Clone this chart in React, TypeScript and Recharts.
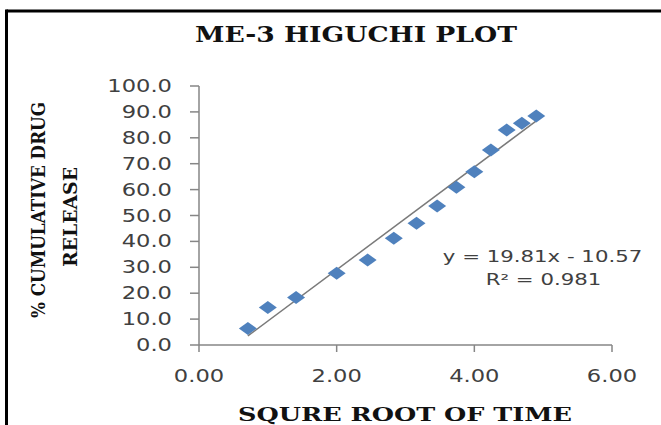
import React from 'react';
import { ScatterChart, Scatter, XAxis, YAxis, ReferenceLine } from 'recharts';

// sqrt(time) values and cumulative % release
const sqrtTime = [0.71, 1.0, 1.41, 2.0, 2.45, 2.83, 3.16, 3.46, 3.74, 4.0, 4.24, 4.47, 4.69, 4.9];
const release = [6.4, 14.5, 18.3, 27.7, 32.8, 41.2, 47.0, 53.7, 60.9, 66.9, 75.3, 83.0, 85.6, 88.4];

const xTicks = [0, 2, 4, 6];
const yTicks = [0, 10, 20, 30, 40, 50, 60, 70, 80, 90, 100];

// trendline end points
const trendX = [0.71, 4.9];
const trendY = [3.5, 86.5];

const chartTitle = 'ME-3 HIGUCHI PLOT';
const xTitle = 'SQURE ROOT OF TIME';
const yTitleLines = ['% CUMULATIVE DRUG', 'RELEASE'];
const equationLines = ['y = 19.81x - 10.57', 'R² = 0.981'];

const data = sqrtTime.map((x, i) => ({ x, y: release[i] }));

const AXIS = '#868686';
const TICK_TEXT = '#404040';
const SX = 1.33;

const YTick = (props: any) => {
  const { x, y, payload } = props;
  return (
    <g transform={`translate(${x},${y})`}>
      <text
        transform={`scale(${SX},1)`}
        textAnchor="end"
        dy="0.355em"
        fontSize={17}
        fontFamily="DejaVu Sans"
        fill={TICK_TEXT}
      >
        {Number(payload.value).toFixed(1)}
      </text>
    </g>
  );
};

const XTick = (props: any) => {
  const { x, y, payload } = props;
  return (
    <g transform={`translate(${x},${y})`}>
      <text
        transform={`scale(${SX},1)`}
        textAnchor="middle"
        dy="0.71em"
        fontSize={17}
        fontFamily="DejaVu Sans"
        fill={TICK_TEXT}
      >
        {Number(payload.value).toFixed(2)}
      </text>
    </g>
  );
};

const Diamond = (props: any) => {
  const { cx, cy } = props;
  if (cx == null || cy == null) return null;
  const hw = 9;
  const hh = 6.5;
  return (
    <polygon
      points={`${cx - hw},${cy} ${cx},${cy - hh} ${cx + hw},${cy} ${cx},${cy + hh}`}
      fill="#4F81BD"
    />
  );
};

export default function App() {
  return (
    <div style={{ position: 'absolute', left: 0, top: 0, width: 661, height: 425, background: '#fff' }}>
      <ScatterChart width={661} height={425} margin={{ top: 86, right: 49, bottom: 50, left: 139 }}>
        <XAxis
          type="number"
          dataKey="x"
          domain={[0, 6]}
          ticks={xTicks}
          height={30}
          axisLine={{ stroke: AXIS, strokeWidth: 1.5 }}
          tickLine={{ stroke: AXIS, strokeWidth: 1.5 }}
          tickSize={7}
          tickMargin={18}
          tick={<XTick />}
          interval={0}
        />
        <YAxis
          type="number"
          dataKey="y"
          domain={[0, 100]}
          ticks={yTicks}
          width={60}
          axisLine={{ stroke: AXIS, strokeWidth: 1.5 }}
          tickLine={{ stroke: AXIS, strokeWidth: 1.5 }}
          tickSize={9}
          tickMargin={18}
          tick={<YTick />}
          interval={0}
        />
        <Scatter data={data} shape={<Diamond />} isAnimationActive={false} />
        <ReferenceLine
          segment={[
            { x: trendX[0], y: trendY[0] },
            { x: trendX[1], y: trendY[1] },
          ]}
          stroke="#7a7a7a"
          strokeWidth={1.5}
          ifOverflow="visible"
        />
      </ScatterChart>
      <svg
        width={661}
        height={425}
        style={{ position: 'absolute', left: 0, top: 0, pointerEvents: 'none' }}
      >
        <line x1={6.5} y1={11} x2={661} y2={11} stroke="#000" strokeWidth={3} />
        <line x1={6.5} y1={9.5} x2={6.5} y2={425} stroke="#000" strokeWidth={3} />
        <text
          x={356}
          y={42}
          textAnchor="middle"
          fontFamily="DejaVu Serif"
          fontWeight="bold"
          fontSize={23}
          fill="#111"
          textLength={322}
          lengthAdjust="spacingAndGlyphs"
        >
          {chartTitle}
        </text>
        <text
          x={405}
          y={421}
          textAnchor="middle"
          fontFamily="DejaVu Serif"
          fontWeight="bold"
          fontSize={19}
          fill="#111"
          textLength={334}
          lengthAdjust="spacingAndGlyphs"
        >
          {xTitle}
        </text>
        <text
          transform="translate(45,210) rotate(-90)"
          textAnchor="middle"
          fontFamily="DejaVu Serif"
          fontWeight="bold"
          fontSize={18}
          fill="#111"
          textLength={216}
          lengthAdjust="spacingAndGlyphs"
        >
          {yTitleLines[0]}
        </text>
        <text
          transform="translate(77,217) rotate(-90)"
          textAnchor="middle"
          fontFamily="DejaVu Serif"
          fontWeight="bold"
          fontSize={18}
          fill="#111"
          textLength={100}
          lengthAdjust="spacingAndGlyphs"
        >
          {yTitleLines[1]}
        </text>
        <g transform="translate(542.5,262)">
          <text transform={`scale(${SX},1)`} textAnchor="middle" fontFamily="DejaVu Sans" fontSize={16} fill={TICK_TEXT}>
            {equationLines[0]}
          </text>
        </g>
        <g transform="translate(543.5,285)">
          <text transform={`scale(${SX},1)`} textAnchor="middle" fontFamily="DejaVu Sans" fontSize={16} fill={TICK_TEXT}>
            {equationLines[1]}
          </text>
        </g>
      </svg>
    </div>
  );
}
